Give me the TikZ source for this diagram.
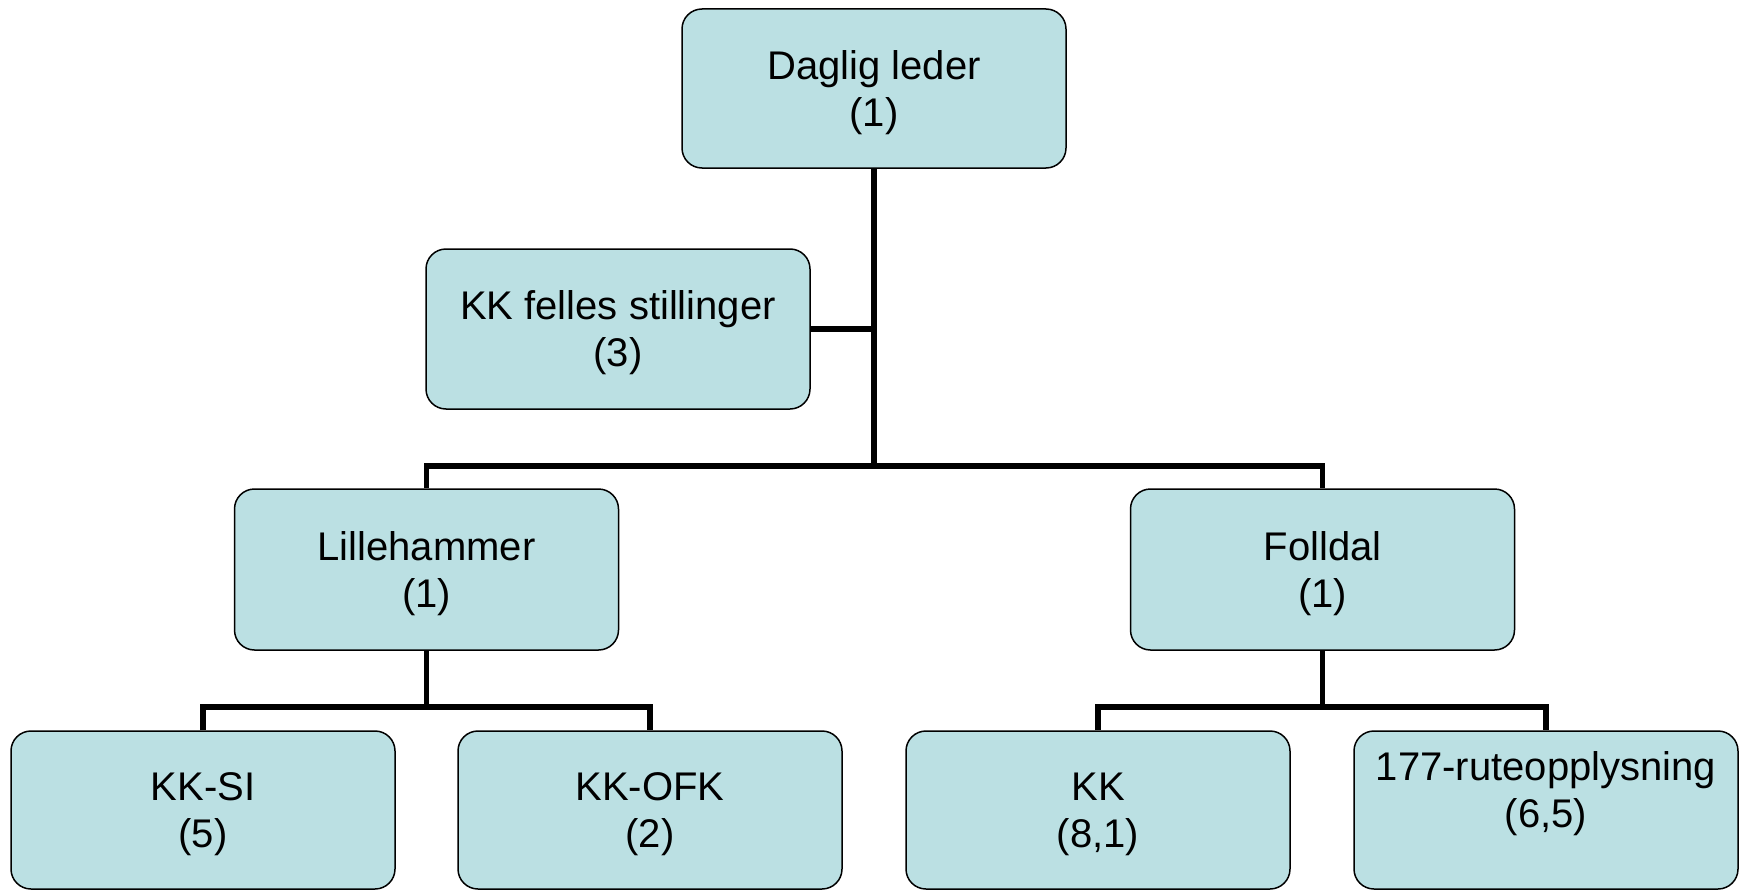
\documentclass[tikz,border=0pt]{standalone}
\usepackage{fontspec}
\setmainfont{Liberation Sans}
\usetikzlibrary{backgrounds}
\definecolor{boxfill}{HTML}{BBE0E3}
\tikzset{
  orgbox/.style={draw=black, line width=1.5pt, fill=boxfill, rounded corners=20pt,
    minimum width=384pt, minimum height=159pt, inner sep=0pt, align=center,
    text depth=0pt, font=\fontsize{40}{47}\selectfont},
  conn/.style={draw=black, line width=5.5pt, line join=miter}
}
\begin{document}
\begin{tikzpicture}[x=1pt,y=-1pt]
\useasboundingbox (0,0) rectangle (1748,891);
\node[orgbox] (dl) at (874,88.5) {Daglig leder\\(1)};
\node[orgbox, minimum height=160pt] (kkf) at (618,329) {KK felles stillinger\\(3)};
\node[orgbox, minimum height=161pt] (lil) at (426.5,569.5) {Lillehammer\\(1)};
\node[orgbox, minimum height=161pt] (fol) at (1322.5,569.5) {Folldal\\(1)};
\node[orgbox, minimum height=158pt] (ksi) at (203,810) {KK-SI\\(5)};
\node[orgbox, minimum height=158pt] (kofk) at (650,810) {KK-OFK\\(2)};
\node[orgbox, minimum height=158pt] (kk) at (1098,810) {KK\\(8,1)};
\node[orgbox, minimum height=158pt, text depth=42pt] (r177) at (1546,810) {177-ruteopplysning\\(6,5)};
\coordinate (bus1) at (874,466);
\coordinate (bus2) at (426.5,707);
\coordinate (bus3) at (1322.5,707);
\begin{scope}[on background layer]
\draw[conn] (dl.south) -- (bus1);
\draw[conn] (kkf.east) -- (kkf.east -| dl.south);
\draw[conn] (lil.north) |- (bus1) -| (fol.north);
\draw[conn] (lil.south) -- (bus2);
\draw[conn] (ksi.north) |- (bus2) -| (kofk.north);
\draw[conn] (fol.south) -- (bus3);
\draw[conn] (kk.north) |- (bus3) -| (r177.north);
\end{scope}
\end{tikzpicture}
\end{document}
